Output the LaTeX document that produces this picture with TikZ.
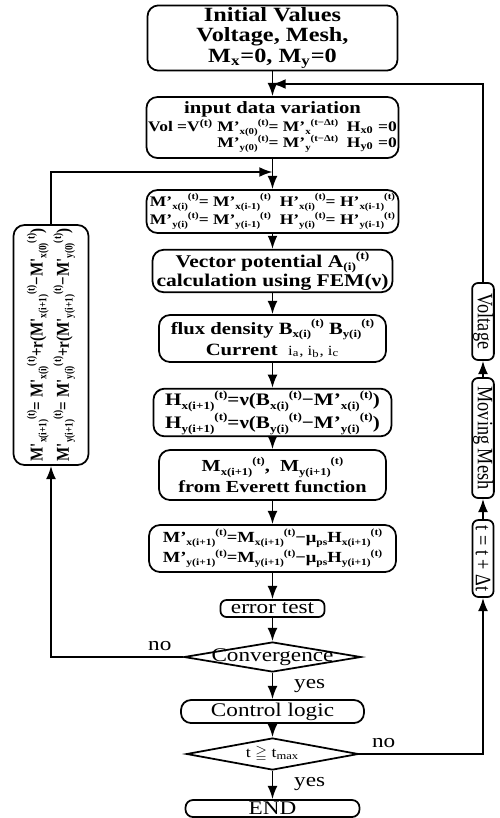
\documentclass[tikz,border=0pt]{standalone}
\usepackage{fontspec}
\setmainfont{Liberation Serif}[FakeStretch=1.2]
\newfontfamily\narrowserif{Liberation Serif}[FakeStretch=0.83]
\usepackage{amssymb}
\usetikzlibrary{arrows.meta, shapes.geometric}

\newcommand{\qt}[3]{#1\raisebox{-0.45ex}{\scalebox{0.62}{#2}}\raisebox{0.95ex}{\scalebox{0.62}{#3}}}

\begin{document}
\begin{tikzpicture}[>=Latex, line width=1pt,
    box/.style={draw, rounded corners=0.22cm, align=center, inner sep=1pt,
      font=\bfseries\fontsize{8.8}{10.5}\selectfont},
    plainbox/.style={draw, rounded corners=0.2cm, align=center, inner sep=1pt,
      font=\fontsize{11}{13}\selectfont},
    decision/.style={draw, diamond, inner sep=0pt},
    sidebox/.style={draw, rounded corners=0.12cm, rotate=-90, inner sep=0.5pt,
      minimum height=0.42cm, font=\narrowserif\fontsize{12.5}{13}\selectfont},
    lbl/.style={font=\fontsize{11}{13}\selectfont}]
  \useasboundingbox (0,0) rectangle (10,-16.36);

  % main column
  \node[box, minimum width=5.0cm, minimum height=1.3cm,
    font=\bfseries\fontsize{11.5}{11.8}\selectfont] (init) at (5.45,-0.76)
    {Initial Values\\Voltage, Mesh,\\M\textsubscript{x}=0, M\textsubscript{y}=0};
  \node[box, minimum width=5.04cm, minimum height=1.22cm,
    font=\bfseries\fontsize{8.3}{10}\selectfont] (vary) at (5.45,-2.55)
    {{\fontsize{9.8}{11}\selectfont input data variation}\\
     \begin{tabular}{@{}r@{ }l@{\ \ }l@{}}
       Vol =V\textsuperscript{(t)} & \qt{M'}{x(0)}{(t)}= \qt{M'}{x}{(t−Δt)} & H\textsubscript{x0} =0\\[-1pt]
        & \qt{M'}{y(0)}{(t)}= \qt{M'}{y}{(t−Δt)} & H\textsubscript{y0} =0
     \end{tabular}};
  \node[box, minimum width=5.04cm, minimum height=0.86cm,
    font=\bfseries\fontsize{8.3}{10.5}\selectfont] (iter) at (5.45,-4.23)
    {\qt{M'}{x(i)}{(t)}= \qt{M'}{x(i-1)}{(t)} \ \qt{H'}{x(i)}{(t)}= \qt{H'}{x(i-1)}{(t)}\\
     \qt{M'}{y(i)}{(t)}= \qt{M'}{y(i-1)}{(t)} \ \qt{H'}{y(i)}{(t)}= \qt{H'}{y(i-1)}{(t)}};
  \node[box, minimum width=4.8cm, minimum height=0.84cm,
    font=\bfseries\fontsize{10.2}{11}\selectfont] (fem) at (5.45,-5.42)
    {Vector potential \qt{A}{(i)}{(t)}\\calculation using FEM(ν)};
  \node[box, minimum width=4.54cm, minimum height=0.94cm,
    font=\bfseries\fontsize{9.8}{12}\selectfont] (flux) at (5.45,-6.77)
    {flux density \qt{B}{x(i)}{(t)} \qt{B}{y(i)}{(t)}\\
     Current \ {\mdseries\fontsize{8}{10}\selectfont i\textsubscript{a}, i\textsubscript{b}, i\textsubscript{c}}};
  \node[box, minimum width=4.76cm, minimum height=0.82cm,
    font=\bfseries\fontsize{10}{11}\selectfont] (field) at (5.45,-8.25)
    {\qt{H}{x(i+1)}{(t)}=ν(\qt{B}{x(i)}{(t)}−\qt{M'}{x(i)}{(t)})\\
     \qt{H}{y(i+1)}{(t)}=ν(\qt{B}{y(i)}{(t)}−\qt{M'}{y(i)}{(t)})};
  \node[box, minimum width=4.54cm, minimum height=1.0cm,
    font=\bfseries\fontsize{9.6}{12}\selectfont] (everett) at (5.45,-9.5)
    {\qt{M}{x(i+1)}{(t)}, \ \qt{M}{y(i+1)}{(t)}\\from Everett function};
  \node[box, minimum width=4.94cm, minimum height=0.94cm] (magn) at (5.45,-10.97)
    {\qt{M'}{x(i+1)}{(t)}=\qt{M}{x(i+1)}{(t)}−μ\raisebox{-0.45ex}{\scalebox{0.62}{ps}}\qt{H}{x(i+1)}{(t)}\\
     \qt{M'}{y(i+1)}{(t)}=\qt{M}{y(i+1)}{(t)}−μ\raisebox{-0.45ex}{\scalebox{0.62}{ps}}\qt{H}{y(i+1)}{(t)}};
  \node[plainbox, minimum width=2.08cm, minimum height=0.34cm, rounded corners=0.12cm,
    text height=0.62em, text depth=0.05em] (err) at (5.45,-12.17) {error test};
  \node[decision, minimum width=3.54cm, minimum height=0.6cm] (conv) at (5.45,-13.14) {};
  \node[lbl] (convtxt) at (conv) {Convergence};
  \node[plainbox, minimum width=3.66cm, minimum height=0.46cm] (ctrl) at (5.45,-14.23) {Control logic};
  \node[decision, minimum width=3.44cm, minimum height=0.64cm] (tmax) at (5.45,-15.08) {};
  \node[font=\fontsize{8.5}{10}\selectfont] (tmaxtxt) at (tmax) {t $\geqq$ t\textsubscript{max}};
  \node[plainbox, minimum width=3.48cm, minimum height=0.34cm, rounded corners=0.15cm,
    text height=0.66em, text depth=0.02em] (end) at (5.45,-16.17) {END};

  % side columns
  \node[box, rotate=90, minimum width=4.8cm, minimum height=1.5cm,
    font=\narrowserif\bfseries\fontsize{10.3}{15}\selectfont] (relax) at (1.02,-6.9)
    {\qt{M'}{x(i+1)}{(t)}= \qt{M'}{x(i)}{(t)}+r(\qt{M'}{x(i+1)}{(t)}−\qt{M'}{x(0)}{(t)})\\
     \qt{M'}{y(i+1)}{(t)}= \qt{M'}{y(i)}{(t)}+r(\qt{M'}{y(i+1)}{(t)}−\qt{M'}{y(0)}{(t)})};
  \node[sidebox, minimum width=1.54cm] (volt) at (9.66,-6.43) {Voltage};
  \node[sidebox, minimum width=2.4cm] (mesh) at (9.66,-8.76) {Moving Mesh};
  \node[sidebox, minimum width=1.54cm] (tstep) at (9.66,-11.17) {t = t + Δt};

  \coordinate (j1) at (5.45,-3.44);
  \coordinate (j2) at (5.45,-1.68);

  % connectors
  \foreach \a/\b in {init/vary, vary/iter, iter/fem, fem/flux, flux/field,
      field/everett, everett/magn, magn/err, err/conv, conv/ctrl, ctrl/tmax, tmax/end}
    \draw[->] (\a) -- (\b);

  \draw[->] (conv.west) -| (relax);
  \draw[->] (relax) |- (j1);
  \draw[->] (tmax.east) -| (tstep);
  \draw[->] (tstep) -- (mesh);
  \draw[->] (mesh) -- (volt);
  \draw[->] (volt) |- (j2);

  \node[lbl, above left, xshift=-0.1cm] (no1) at (conv.west) {no};
  \node[lbl, above right, xshift=0.12cm] (no2) at (tmax.east) {no};
  \node[lbl, below right, xshift=0.3cm] (yes1) at (conv.south) {yes};
  \node[lbl, below right, xshift=0.3cm] (yes2) at (tmax.south) {yes};
\end{tikzpicture}
\end{document}
